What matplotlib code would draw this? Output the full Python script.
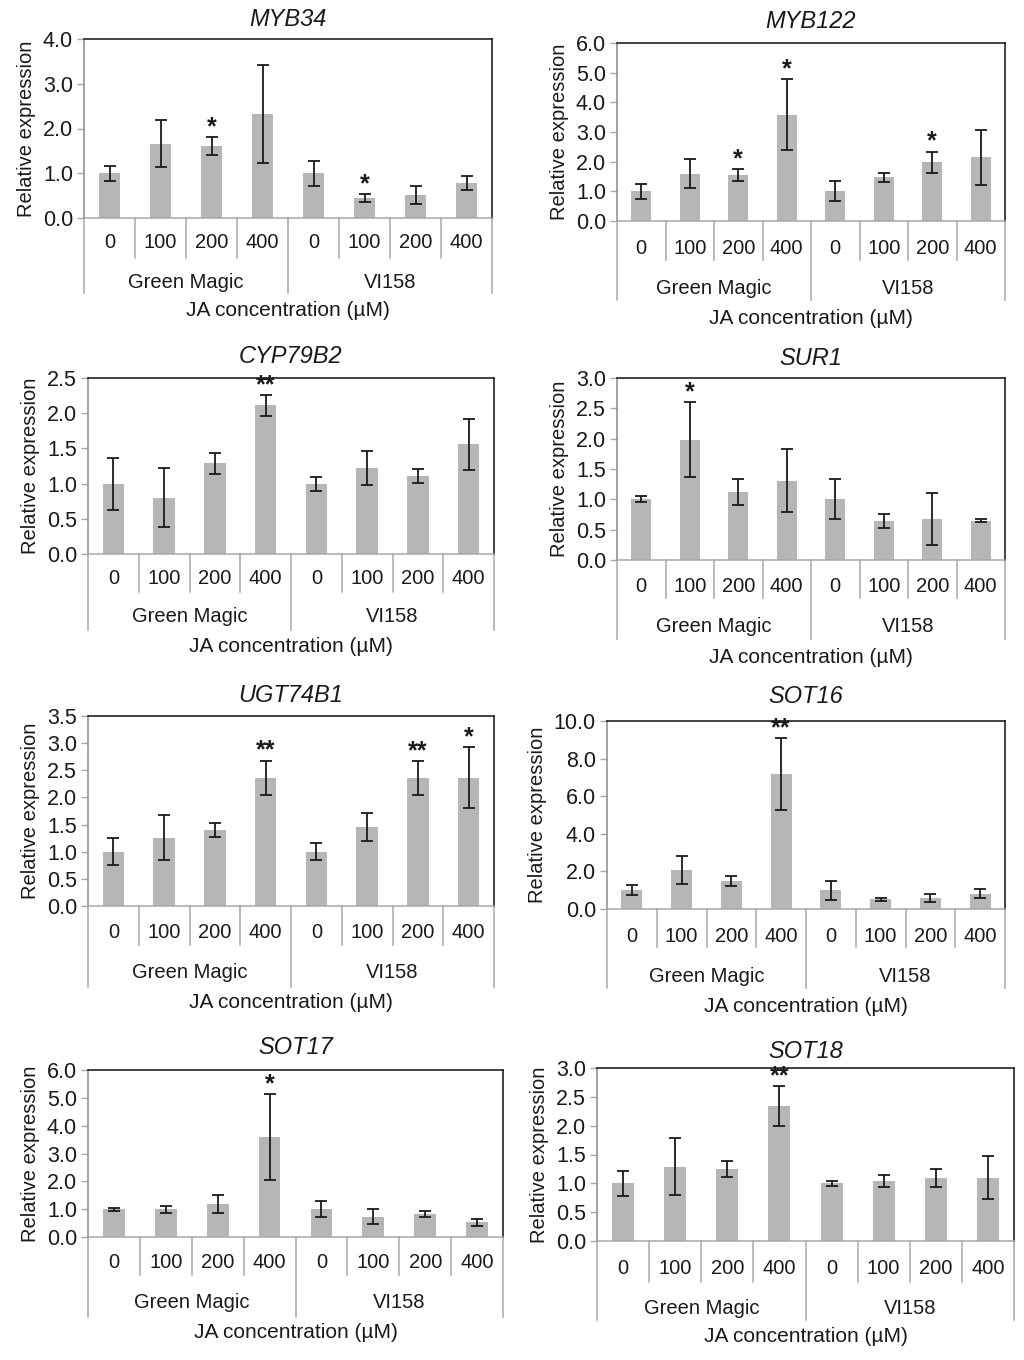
import matplotlib
matplotlib.use("Agg")
import matplotlib.pyplot as plt
import matplotlib.transforms as mtransforms
import numpy as np

plt.rcParams['font.family'] = ['Liberation Sans', 'DejaVu Sans']

# ---------------- data ----------------
conc_labels = ["0", "100", "200", "400", "0", "100", "200", "400"]
group_labels = ["Green Magic", "VI158"]
x_label = "JA concentration (\u00b5M)"
y_label = "Relative expression"

genes = ["MYB34", "MYB122", "CYP79B2", "SUR1", "UGT74B1", "SOT16", "SOT17", "SOT18"]

myb34_mean = [1.00, 1.66, 1.60, 2.32, 1.00, 0.45, 0.51, 0.78]
myb34_err = [0.17, 0.53, 0.20, 1.09, 0.28, 0.09, 0.20, 0.16]
myb34_sig = ["", "", "*", "", "", "*", "", ""]

myb122_mean = [1.00, 1.60, 1.56, 3.58, 1.00, 1.47, 1.98, 2.15]
myb122_err = [0.25, 0.50, 0.20, 1.20, 0.34, 0.15, 0.36, 0.92]
myb122_sig = ["", "", "*", "*", "", "", "*", ""]

cyp79b2_mean = [1.00, 0.80, 1.29, 2.11, 1.00, 1.22, 1.11, 1.56]
cyp79b2_err = [0.37, 0.42, 0.15, 0.15, 0.10, 0.24, 0.10, 0.36]
cyp79b2_sig = ["", "", "", "**", "", "", "", ""]

sur1_mean = [1.00, 1.98, 1.12, 1.31, 1.00, 0.64, 0.68, 0.65]
sur1_err = [0.05, 0.62, 0.22, 0.52, 0.33, 0.12, 0.43, 0.03]
sur1_sig = ["", "*", "", "", "", "", "", ""]

ugt74b1_mean = [1.00, 1.26, 1.40, 2.36, 1.00, 1.46, 2.36, 2.36]
ugt74b1_err = [0.25, 0.41, 0.12, 0.32, 0.16, 0.26, 0.31, 0.56]
ugt74b1_sig = ["", "", "", "**", "", "", "**", "*"]

sot16_mean = [1.00, 2.07, 1.48, 7.18, 1.00, 0.51, 0.59, 0.82]
sot16_err = [0.27, 0.74, 0.27, 1.93, 0.50, 0.09, 0.21, 0.23]
sot16_sig = ["", "", "", "**", "", "", "", ""]

sot17_mean = [1.00, 1.00, 1.19, 3.58, 1.00, 0.72, 0.82, 0.53]
sot17_err = [0.05, 0.13, 0.33, 1.54, 0.28, 0.27, 0.10, 0.13]
sot17_sig = ["", "", "", "*", "", "", "", ""]

sot18_mean = [1.00, 1.29, 1.25, 2.34, 1.00, 1.04, 1.09, 1.10]
sot18_err = [0.22, 0.50, 0.14, 0.35, 0.04, 0.11, 0.16, 0.37]
sot18_sig = ["", "", "", "**", "", "", "", ""]

y_max = [4.0, 6.0, 2.5, 3.0, 3.5, 10.0, 6.0, 3.0]
y_step = [1.0, 1.0, 0.5, 0.5, 0.5, 2.0, 1.0, 0.5]

means = [myb34_mean, myb122_mean, cyp79b2_mean, sur1_mean,
         ugt74b1_mean, sot16_mean, sot17_mean, sot18_mean]
errs = [myb34_err, myb122_err, cyp79b2_err, sur1_err,
        ugt74b1_err, sot16_err, sot17_err, sot18_err]
sigs = [myb34_sig, myb122_sig, cyp79b2_sig, sur1_sig,
        ugt74b1_sig, sot16_sig, sot17_sig, sot18_sig]

# ---------------- layout (pixels) ----------------
W, H = 1024, 1360
# left, right, top, bottom, sub-divider end, group-divider end,
# tick-label y, group-label y, x-label y, title y
geom = [
    (84, 492, 39, 218, 258, 293, 243, 282, 310, 20),
    (617, 1005, 43, 221, 260, 300, 248, 288, 318, 22),
    (88, 494, 378, 554, 592, 630, 579, 617, 646, 357),
    (617, 1005, 378, 560, 598, 639, 586, 627, 657, 359),
    (88, 494, 716, 906, 945, 987, 933, 973, 1003, 695),
    (607, 1005, 721, 909, 947, 988, 937, 976, 1006, 697),
    (88, 503, 1070, 1237, 1275, 1317, 1263, 1303, 1333, 1048),
    (597, 1014, 1068, 1241, 1282, 1320, 1268, 1308, 1337, 1051),
]

bar_color = "#b6b6b6"
grid_gray = "#a8a8a8"
text_color = "#1a1a1a"

fig = plt.figure(figsize=(W / 100, H / 100), dpi=100)
fig.patch.set_facecolor("white")

n = len(conc_labels)
xpos = np.arange(n)

for i, gene in enumerate(genes):
    L, R, T, B, sub_y, grp_y, tick_y, glab_y, xlab_y, title_y = geom[i]
    ax = fig.add_axes([L / W, 1 - B / H, (R - L) / W, (B - T) / H])
    ax.bar(xpos, means[i], width=0.42, color=bar_color, zorder=2)
    ax.errorbar(xpos, means[i], yerr=errs[i], fmt="none", ecolor=text_color,
                elinewidth=1.3, capsize=4.5, capthick=1.3, zorder=3)
    ax.set_xlim(-0.5, n - 0.5)
    ax.set_ylim(0, y_max[i])
    ticks = np.arange(0, y_max[i] + 1e-9, y_step[i])
    ax.set_yticks(ticks)
    ax.set_yticklabels([f"{t:.1f}" for t in ticks])
    ax.tick_params(axis="y", direction="out", length=5, width=1, color=grid_gray,
                   labelsize=15.5, labelcolor=text_color, pad=3)
    ax.set_xticks([])
    for s in ["top", "right"]:
        ax.spines[s].set_color("#111111")
        ax.spines[s].set_linewidth(1.1)
    ax.spines["left"].set_color("#8a8a8a")
    ax.spines["left"].set_linewidth(1.1)
    ax.spines["bottom"].set_color(grid_gray)
    ax.spines["bottom"].set_linewidth(1.1)

    ax.set_ylabel(y_label, fontsize=14.5, color=text_color, labelpad=5)

    # significance stars
    for j in range(n):
        if sigs[i][j]:
            ax.annotate(sigs[i][j], (xpos[j], means[i][j] + errs[i][j]),
                        xytext=(0, 2), textcoords="offset points",
                        ha="center", va="baseline", fontsize=18,
                        fontweight="bold", color=text_color)

    # multi-level category axis
    tr = mtransforms.blended_transform_factory(ax.transData, fig.transFigure)
    for xd in [0.5, 1.5, 2.5, 4.5, 5.5, 6.5]:
        ax.plot([xd, xd], [1 - B / H, 1 - sub_y / H], transform=tr,
                color=grid_gray, lw=1.1, clip_on=False)
    for xd in [-0.5, 3.5, n - 0.5]:
        ax.plot([xd, xd], [1 - B / H, 1 - grp_y / H], transform=tr,
                color=grid_gray, lw=1.1, clip_on=False)
    for j in range(n):
        ax.text(xpos[j], 1 - tick_y / H, conc_labels[j], transform=tr,
                ha="center", va="center", fontsize=14.5, color=text_color)
    ax.text(1.5, 1 - glab_y / H, group_labels[0], transform=tr,
            ha="center", va="center", fontsize=14.5, color=text_color)
    ax.text(5.5, 1 - glab_y / H, group_labels[1], transform=tr,
            ha="center", va="center", fontsize=14.5, color=text_color)
    ax.text((n - 1) / 2, 1 - xlab_y / H, x_label, transform=tr,
            ha="center", va="center", fontsize=15, color=text_color)
    ax.text((n - 1) / 2, 1 - title_y / H, gene, transform=tr,
            ha="center", va="center", fontsize=17, style="italic", color=text_color)

fig.savefig("out.png", dpi=100, facecolor="white")
